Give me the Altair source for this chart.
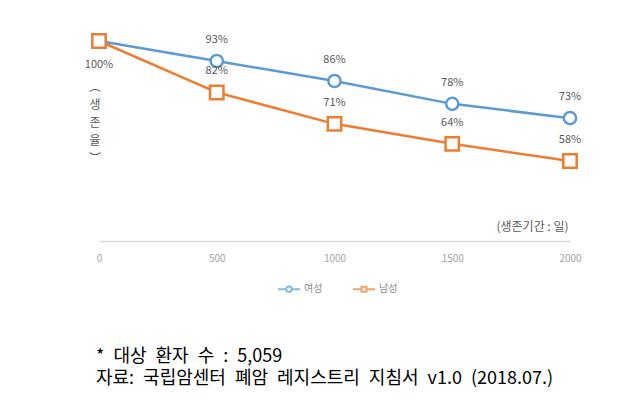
import altair as alt
import pandas as pd

days = [0, 500, 1000, 1500, 2000]
female = [100, 93, 86, 78, 73]
male = [100, 82, 71, 64, 58]
series_names = ["여성", "남성"]
colors = ["#5B9BD5", "#ED7D31"]
x_ticks = [0, 500, 1000, 1500, 2000]
footnotes = ["* 대상 환자 수 : 5,059", "자료: 국립암센터 폐암 레지스트리 지침서 v1.0 (2018.07.)"]
y_title = ["︵", "생", "존", "율", "︶"]
x_title = "(생존기간 : 일)"

rows = []
for d, f, m in zip(days, female, male):
    rows.append({"day": d, "sex": "여성", "rate": f, "label": f"{f}%"})
    rows.append({"day": d, "sex": "남성", "rate": m, "label": f"{m}%"})
df = pd.DataFrame(rows)

FONT = "Noto Sans CJK KR"

x_enc = alt.X("day:Q", scale=alt.Scale(domain=[0, 2000], nice=False, zero=False),
              axis=alt.Axis(values=x_ticks, format="d", title=x_title, titleAnchor="end", titleAlign="right",
                            titleX=469, titleY=-15, titleBaseline="middle", titleFont=FONT,
                            titleFontSize=12, titleFontWeight="normal", titleColor="#595959",
                            labelFont=FONT, labelFontSize=10, labelColor="#a6a6a6", labelPadding=12,
                            ticks=False, grid=False, domainColor="#d9d9d9", domainWidth=1.5,
                            labelFlush=False))
y_enc = alt.Y("rate:Q", scale=alt.Scale(domain=[30, 100], nice=False, zero=False), axis=None)
color_scale = alt.Scale(domain=series_names, range=colors)

base = alt.Chart(df)

circ_path = "M-1,0L-0.25,0M0.25,0L1,0M0.25,0A0.25,0.25,0,1,1,-0.25,0A0.25,0.25,0,1,1,0.25,0Z"
sq_path = "M-1,0L-0.23,0M0.23,0L1,0M-0.23,-0.23L0.23,-0.23L0.23,0.23L-0.23,0.23Z"
leg = alt.Legend(title=None, orient="none", legendX=178, legendY=236,
                 direction="horizontal", symbolSize=484, symbolStrokeWidth=2,
                 symbolFillColor="white", labelFont=FONT, labelFontSize=10,
                 labelColor="#8c8c8c", columnPadding=26, labelOffset=3, padding=0)

legend_layer = base.mark_point(filled=False, strokeWidth=2, size=0).encode(
    x=x_enc, y=y_enc,
    color=alt.Color("sex:N", scale=color_scale, legend=leg),
    shape=alt.Shape("sex:N", scale=alt.Scale(domain=series_names, range=[circ_path, sq_path]), legend=leg),
)

lines = base.mark_line(strokeWidth=2.5).encode(
    x="day:Q", y="rate:Q",
    color=alt.Color("sex:N", scale=color_scale),
)

circles = base.transform_filter(alt.datum.sex == "여성").mark_point(
    shape="circle", filled=True, fill="white", size=150, strokeWidth=2.5, opacity=1
).encode(x="day:Q", y="rate:Q", stroke=alt.value(colors[0]))

squares = base.transform_filter(alt.datum.sex == "남성").mark_point(
    shape="square", filled=True, fill="white", size=180, strokeWidth=2.5, opacity=1
).encode(x="day:Q", y="rate:Q", stroke=alt.value(colors[1]))

label_style = dict(font=FONT, fontSize=11, color="#595959")
labels_above = base.transform_filter(alt.datum.day > 0).mark_text(dy=-21, **label_style).encode(
    x="day:Q", y="rate:Q", text="label:N")
label_start = base.transform_filter((alt.datum.day == 0) & (alt.datum.sex == "남성")).mark_text(
    dy=24, **label_style).encode(x="day:Q", y="rate:Q", text="label:N")

ytitle_df = pd.DataFrame({"t": [0]})
ytitle = alt.Chart(ytitle_df).mark_text(
    align="center", baseline="middle", font=FONT, fontSize=12, color="#595959", lineHeight=18
).encode(x=alt.value(-4), y=alt.value(46), text=alt.value(y_title))

foot_df = pd.DataFrame({"text": [t.replace(" ", "\u2002") for t in footnotes], "line": [0, 1]})
foot = alt.Chart(foot_df).mark_text(align="left", baseline="middle", font=FONT, fontSize=18,
                                    color="#000000").encode(
    x=alt.value(-3),
    y=alt.Y("line:Q", scale=alt.Scale(domain=[0, 1], range=[316, 338]), axis=None),
    text="text:N",
)

chart = alt.layer(legend_layer, lines, circles, squares, labels_above, label_start)
chart = alt.layer(chart, ytitle, foot).resolve_scale(y="independent").properties(
    width=471, height=200,
    autosize=alt.AutoSizeParams(type="none"),
    padding={"left": 91, "top": 33, "right": 57, "bottom": 151},
    background="white",
).configure_view(stroke=None)

chart.save("out.html", embed_options={"renderer": "svg", "actions": False})
